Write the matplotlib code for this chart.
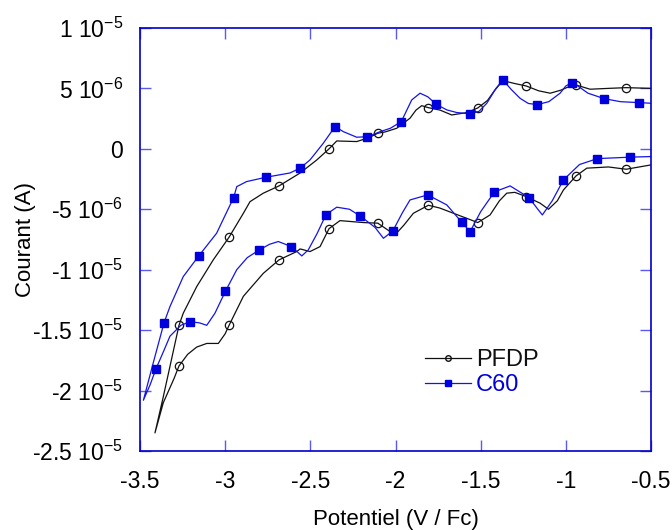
import matplotlib
matplotlib.use("Agg")
from matplotlib import pyplot as plt
from matplotlib.lines import Line2D
import numpy as np

plt.rcParams["font.family"] = ["Liberation Sans", "DejaVu Sans"]
plt.rcParams["mathtext.fontset"] = "custom"
plt.rcParams["mathtext.rm"] = "Liberation Sans"
plt.rcParams["mathtext.default"] = "regular"
plt.rcParams["axes.unicode_minus"] = False

# PFDP, current in microamps
pfdp_up_x = [-0.50, -0.646, -0.75, -0.858, -0.940, -0.98, -1.03, -1.092, -1.16, -1.233, -1.30, -1.370,
             -1.42, -1.46, -1.517, -1.58, -1.670, -1.738, -1.809, -1.846, -1.88, -1.915, -1.993, -2.06,
             -2.104, -2.16, -2.228, -2.345, -2.390, -2.462, -2.560, -2.684, -2.776, -2.854, -2.893,
             -2.977, -3.070, -3.167, -3.246, -3.271, -3.324, -3.363, -3.412]
pfdp_up_y = [5.0, 5.06, 5.0, 4.93, 5.28, 5.15, 4.85, 4.6, 4.8, 5.2, 5.4, 5.64,
             4.8, 4.0, 3.38, 3.0, 2.8, 3.2, 3.41, 3.57, 3.2, 2.53, 1.70, 1.40,
             1.29, 0.9, 0.6, 0.65, 0.0, -0.92, -2.0, -3.07, -3.67, -4.37, -5.33,
             -7.31, -9.19, -11.4, -13.6, -14.6, -18.0, -20.5, -23.5]
pfdp_down_x = [-3.412, -3.363, -3.30, -3.271, -3.22, -3.167, -3.108, -3.040, -3.00, -2.977, -2.893,
               -2.776, -2.684, -2.580, -2.560, -2.502, -2.443, -2.390, -2.326, -2.189, -2.104, -2.003,
               -1.95, -1.895, -1.807, -1.74, -1.660, -1.517, -1.445, -1.39, -1.347, -1.30, -1.233,
               -1.151, -1.102, -1.05, -1.014, -0.940, -0.877, -0.75, -0.646, -0.50]
pfdp_down_y = [-23.5, -21.0, -19.0, -17.96, -17.0, -16.4, -16.1, -16.1, -15.3, -14.6, -12.2,
               -10.3, -9.19, -8.5, -8.28, -8.5, -8.09, -6.6, -5.94, -6.1, -6.15, -7.12,
               -6.3, -5.33, -4.67, -4.9, -5.33, -6.1, -5.47, -4.3, -3.67, -3.6, -3.95,
               -4.5, -5.0, -4.3, -3.4, -2.24, -1.6, -1.5, -1.69, -1.33]
pfdp_marks = [-0.646, -0.940, -1.233, -1.517, -1.809, -1.807, -2.104, -2.390, -2.684, -2.977, -3.271]

# C60, current in microamps
c60_up_x = [-0.50, -0.568, -0.68, -0.775, -0.87, -0.93, -0.965, -1.00, -1.034, -1.10, -1.167, -1.22,
            -1.269, -1.32, -1.370, -1.41, -1.464, -1.51, -1.562, -1.64, -1.699, -1.762, -1.81, -1.856,
            -1.905, -1.966, -2.03, -2.09, -2.165, -2.228, -2.306, -2.355, -2.424, -2.502, -2.560,
            -2.62, -2.760, -2.874, -2.932, -2.950, -3.00, -3.050, -3.155, -3.246, -3.324, -3.359,
            -3.422, -3.480]
c60_up_y = [3.77, 3.82, 3.9, 4.15, 4.6, 5.2, 5.48, 5.2, 4.6, 3.9, 3.66, 3.75,
            4.18, 4.9, 5.7, 5.0, 3.77, 3.1, 2.89, 3.0, 3.22, 3.69, 4.3, 4.6,
            4.04, 2.25, 1.7, 1.42, 1.0, 0.96, 1.42, 1.84, 0.46, -0.92, -1.6,
            -2.0, -2.35, -2.71, -3.13, -4.03, -5.5, -6.98, -8.86, -10.57, -13.05, -14.4,
            -17.7, -20.8]
c60_down_x = [-3.480, -3.44, -3.406, -3.36, -3.324, -3.26, -3.206, -3.15, -3.108, -3.06, -2.999,
              -2.932, -2.87, -2.803, -2.74, -2.688, -2.611, -2.550, -2.512, -2.46, -2.408, -2.345,
              -2.27, -2.208, -2.12, -2.071, -2.016, -1.96, -1.915, -1.811, -1.699, -1.611, -1.562,
              -1.50, -1.419, -1.327, -1.216, -1.17, -1.138, -1.08, -1.014, -0.92, -0.815, -0.623,
              -0.50]
c60_down_y = [-20.8, -19.5, -18.2, -16.7, -15.5, -14.6, -14.3, -14.4, -14.6, -13.6, -11.8,
              -10.0, -9.0, -8.39, -7.9, -7.67, -8.09, -8.86, -8.36, -7.0, -5.44, -4.83,
              -5.0, -5.55, -6.5, -7.4, -6.8, -5.3, -4.23, -3.81, -4.64, -6.07, -6.85,
              -5.2, -3.56, -3.07, -4.04, -4.9, -5.47, -4.3, -2.57, -1.3, -0.81, -0.69,
              -0.64]
c60_marks = [-0.568, -0.775, -0.965, -1.167, -1.370, -1.562, -1.762, -1.966, -2.165, -2.355, -2.560,
             -2.760, -2.950, -3.155, -3.359, -3.406, -3.206, -2.999, -2.803, -2.611, -2.408, -2.208,
             -2.016, -1.811, -1.611, -1.419, -1.216, -1.014, -0.815, -0.623]

x_ticks = [-3.5, -3, -2.5, -2, -1.5, -1, -0.5]
x_labels = ["-3.5", "-3", "-2.5", "-2", "-1.5", "-1", "-0.5"]
y_ticks = [1e-5, 5e-6, 0, -5e-6, -1e-5, -1.5e-5, -2e-5, -2.5e-5]
y_labels = ["1 10$^{-5}$", "5 10$^{-6}$", "0", "-5 10$^{-6}$", "-1 10$^{-5}$",
            "-1.5 10$^{-5}$", "-2 10$^{-5}$", "-2.5 10$^{-5}$"]

black = "#111111"
blue = "#1414e6"
frame = "#0000cc"

fig = plt.figure(figsize=(6.72, 5.30), dpi=100)
ax = fig.add_axes([0.2083, 0.149, 0.7605, 0.7983])

px = np.array(pfdp_up_x + pfdp_down_x)
py = np.array(pfdp_up_y + pfdp_down_y) * 1e-6
ax.plot(px, py, color=black, lw=0.9, marker="o", ms=6, mfc="none", mec=black, mew=0.9,
        markevery=list(np.isin(px, pfdp_marks)))

cx = np.array(c60_up_x + c60_down_x)
cy = np.array(c60_up_y + c60_down_y) * 1e-6
ax.plot(cx, cy, color=blue, lw=0.9, marker="s", ms=6, mfc="#0000dd", mec="#0000dd",
        markevery=list(np.isin(cx, c60_marks)))

ax.set_xlim(-3.5, -0.5)
ax.set_ylim(-2.5e-5, 1e-5)
ax.set_xticks(x_ticks)
ax.set_xticklabels(x_labels)
ax.set_yticks(y_ticks)
ax.set_yticklabels(y_labels)
ax.tick_params(direction="in", length=8, width=1, color="#5a5aee", labelsize=16.5,
               top=True, right=True)
ax.tick_params(axis="y", pad=12)
ax.tick_params(axis="x", pad=14)
for s in ax.spines.values():
    s.set_color(frame)
    s.set_linewidth(1.2)

ax.set_xlabel("Potentiel (V / Fc)", fontsize=16)
ax.set_ylabel("Courant (A)", fontsize=16)
ax.xaxis.set_label_coords(0.5, -0.138)
ax.yaxis.set_label_coords(-0.204, 0.5)

handles = [
    Line2D([], [], color=black, lw=0.9, marker="o", ms=4, mfc="none", mec=black),
    Line2D([], [], color=blue, lw=0.9, marker="s", ms=4.5, mfc="#0000dd", mec="#0000dd"),
]
ax.legend(handles, ["PFDP", "C60"], loc="center left", bbox_to_anchor=(0.516, 0.185),
          frameon=False, fontsize=17, handlelength=1.95, handletextpad=0.2,
          labelspacing=0.12, labelcolor=[black, "#0000dd"])

fig.savefig("out.png", dpi=100)
